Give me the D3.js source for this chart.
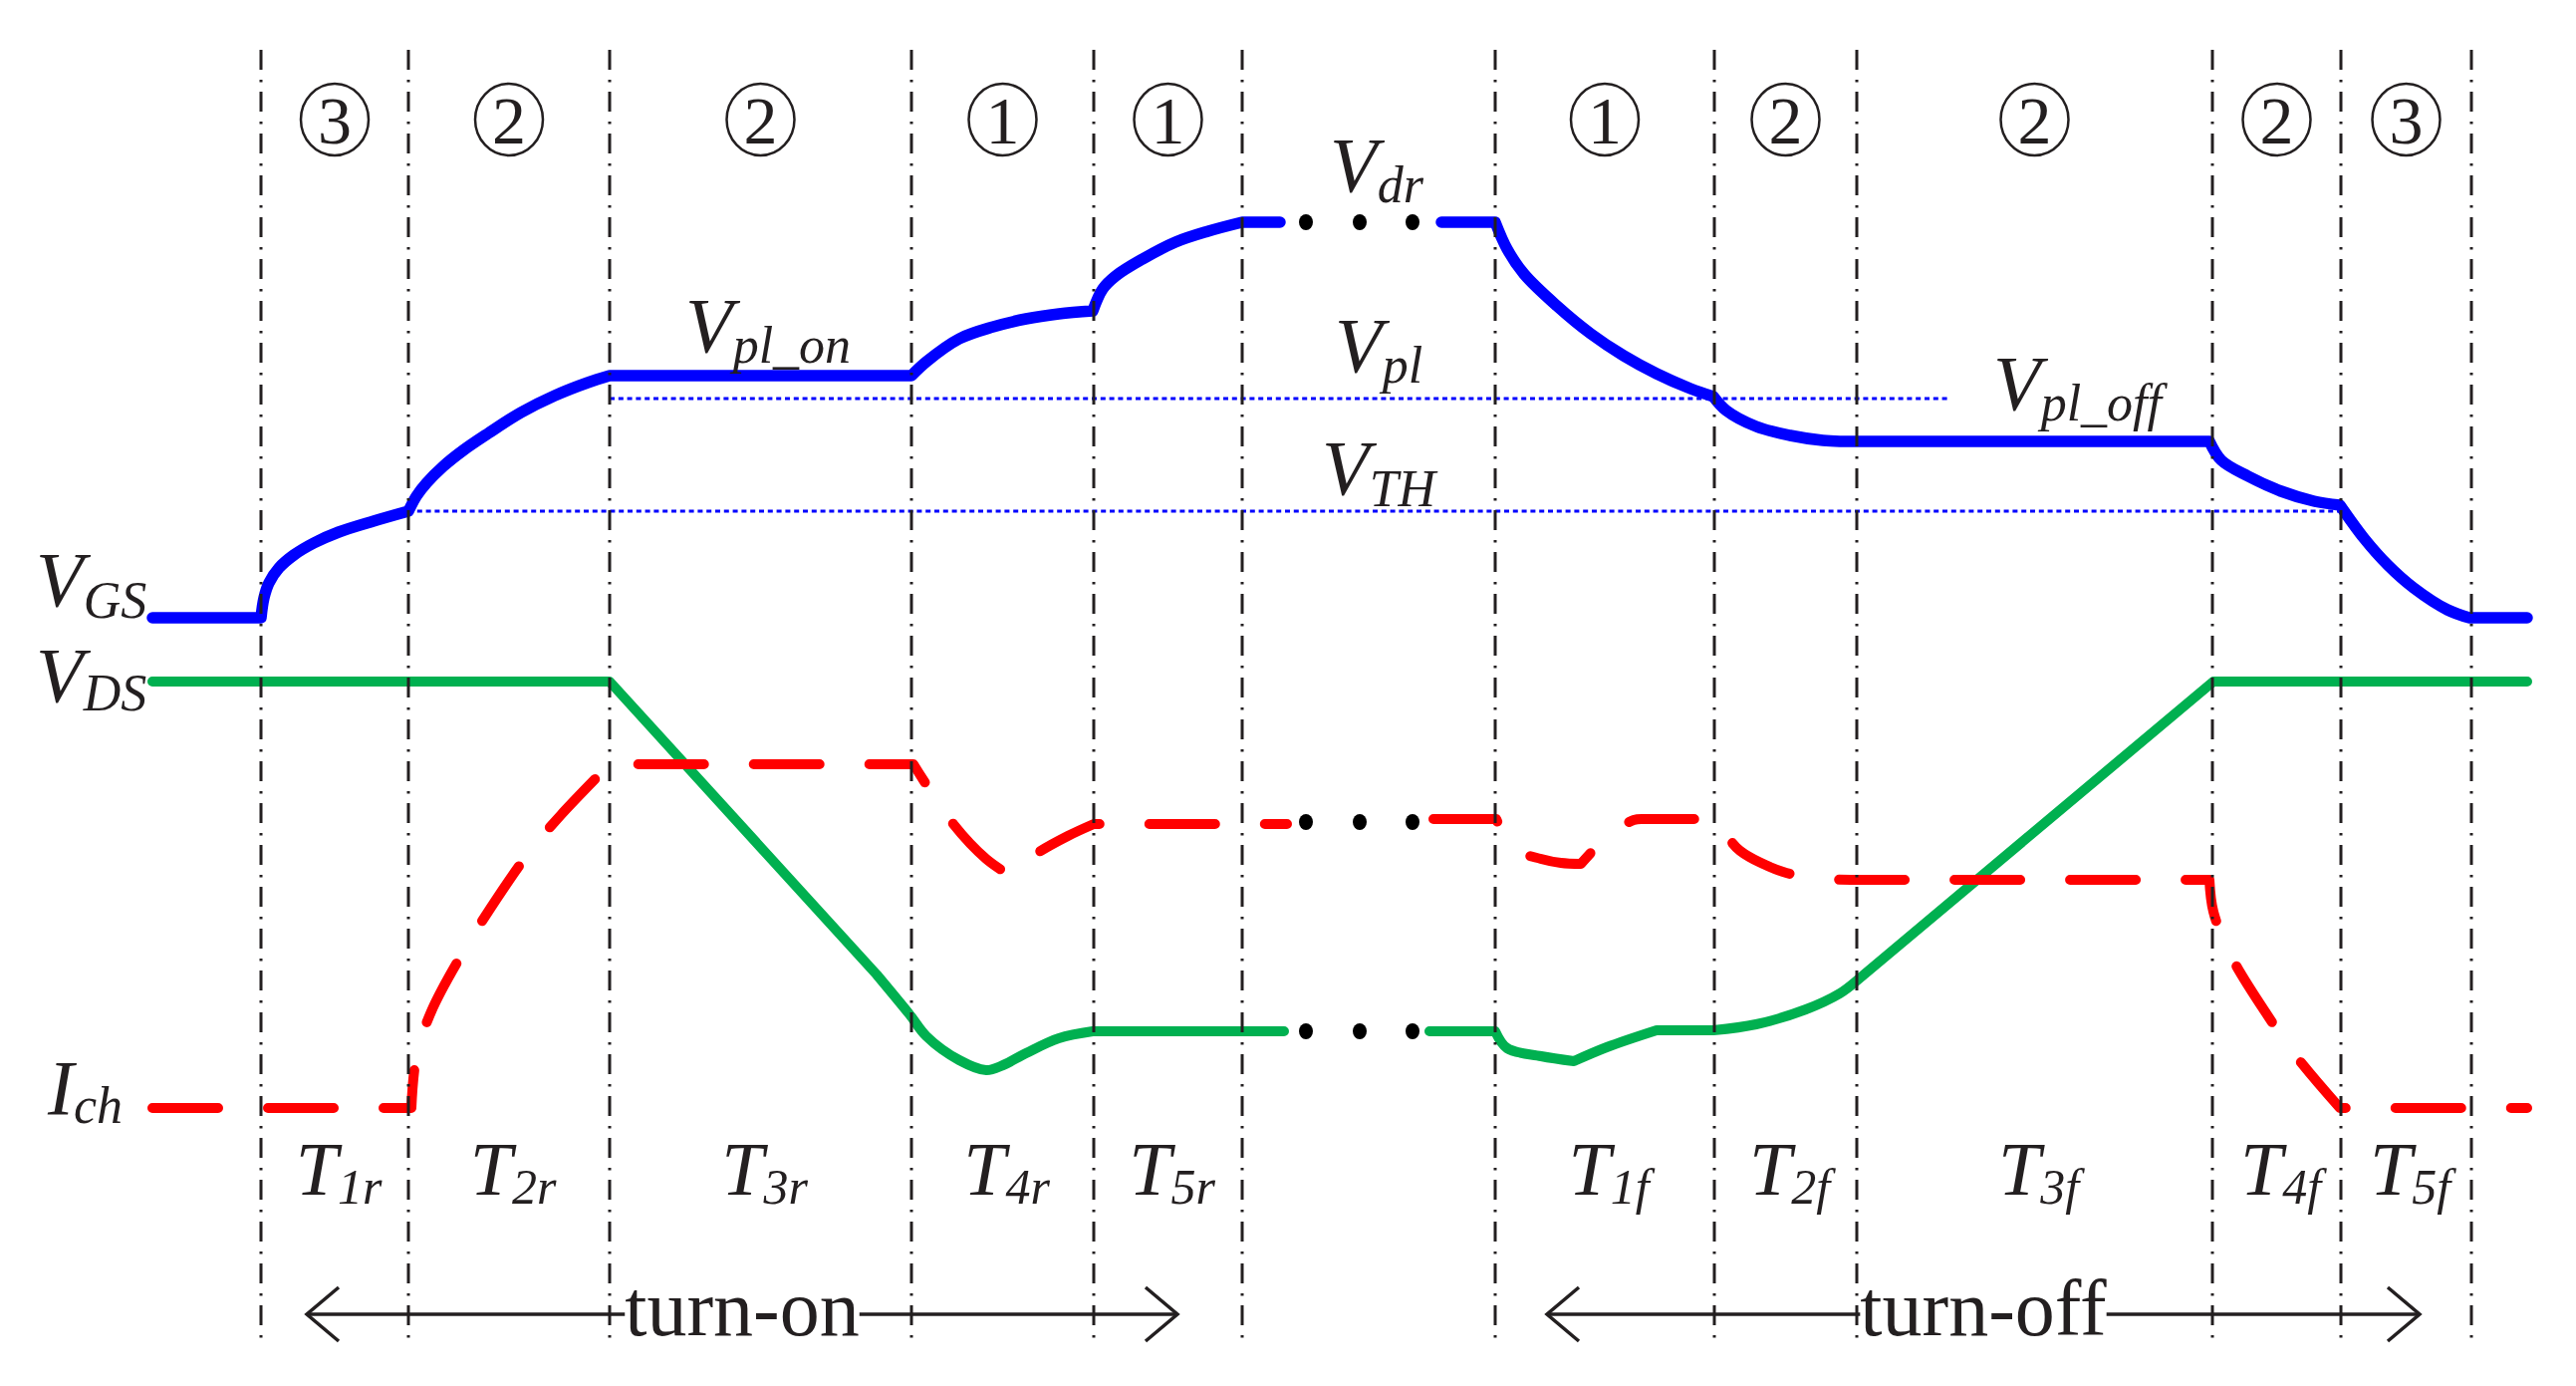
<!DOCTYPE html>
<html>
<head>
<meta charset="utf-8">
<script src="https://cdn.jsdelivr.net/npm/d3@7/dist/d3.min.js"></script>
<style>
  body { margin: 0; background: #fff; }
  text { font-family: "Liberation Serif", "Times New Roman", serif; fill: #231f20; }
</style>
</head>
<body>
<svg id="chart"></svg>
<script>
// time axis (arbitrary units) and level axis (arbitrary units)

// stage boundaries (dash-dot vertical lines)
const boundaries = [10.9, 25.7, 45.9, 76.2, 94.5, 109.4, 134.8, 156.8, 171.1, 206.8, 219.7, 232.8];
// the stage intervals, as pairs of boundary indices
const stageSpans = [[0, 1], [1, 2], [2, 3], [3, 4], [4, 5], [6, 7], [7, 8], [8, 9], [9, 10], [10, 11]];
const stageModes = [3, 2, 2, 1, 1, 1, 2, 2, 2, 3];
const stageSubs = ["1r", "2r", "3r", "4r", "5r", "1f", "2f", "3f", "4f", "5f"];

// V_GS, one list of segments per transition
const vgsOn = [
  [[0, 58], [10.9, 58]],
  [[10.9, 58], [11.2, 60], [11.7, 61.5], [12.7, 63], [14.2, 64.3], [16.2, 65.5], [18.7, 66.6], [22.2, 67.7], [25.7, 68.7]],
  [[25.7, 68.7], [26.5, 70.2], [27.5, 71.5], [29.2, 73.2], [31.2, 74.8], [33.7, 76.5], [37, 78.6], [40.4, 80.3], [43.7, 81.6], [45.9, 82.3]],
  [[45.9, 82.3], [76.2, 82.3]],
  [[76.2, 82.3], [77.7, 83.7], [81, 86], [84.4, 87.2], [87.7, 88], [91, 88.5], [94.4, 88.8]],
  [[94.4, 88.8], [95.4, 91], [96.7, 92.3], [99.4, 94], [102.7, 95.7], [106, 96.8], [109.4, 97.7]],
  [[109.4, 97.7], [113.2, 97.7]]
];
const vgsOff = [
  [[129.4, 97.7], [134.8, 97.7]],
  [[134.8, 97.7], [136, 95], [137.7, 92.5], [141, 89.3], [144.4, 86.5], [147.7, 84.3], [151, 82.5], [154.4, 81], [156.7, 80.2]],
  [[156.7, 80.2], [158, 78.8], [161, 77.2], [164.4, 76.3], [167.7, 75.8], [169.4, 75.7]],
  [[169.4, 75.7], [206.5, 75.7]],
  [[206.5, 75.7], [207.7, 73.8], [210.4, 72.2], [213.7, 70.7], [217, 69.7], [219.6, 69.3]],
  [[219.6, 69.3], [222, 66], [224.4, 63.3], [227, 61], [230.4, 58.8], [232.6, 58]],
  [[232.6, 58], [238.4, 58]]
];

// V_DS
const vdsOn = [
  [[0, 51.6], [45.9, 51.6]],
  [[45.9, 51.6], [72.7, 22.2]],
  [[72.7, 22.2], [76, 18.2], [77.7, 16], [81, 13.6], [83.7, 12.6], [85.4, 13.1], [87.7, 14.3], [91, 15.8], [94.4, 16.5]],
  [[94.4, 16.5], [113.6, 16.5]]
];
const vdsOff = [
  [[128.2, 16.5], [134.8, 16.5]],
  [[134.8, 16.5], [136, 14.8], [139.4, 14], [142.7, 13.5]],
  [[142.7, 13.5], [146, 14.9], [151, 16.6]],
  [[151, 16.6], [156.7, 16.6]],
  [[156.7, 16.6], [161, 17.2], [166, 18.7], [169.4, 20.3], [171, 21.5]],
  [[171, 21.5], [206.9, 51.6]],
  [[206.9, 51.6], [238.4, 51.6]]
];

// I_ch
const ichOn = [
  [[0, 8.8], [26, 8.8]],
  [[26, 8.8], [26.5, 14], [28, 18.5], [31.4, 24.8], [33.9, 28.8], [38, 34.7], [41, 38.2], [45.9, 43.3]],
  [[45.9, 43.3], [76.4, 43.3]],
  [[76.4, 43.3], [80.4, 37.3], [83.7, 33.8], [86, 32.2]],
  [[86, 32.2], [88.7, 34.3], [91.9, 36.1], [94.5, 37.3]],
  [[94.5, 37.3], [113.9, 37.3]]
];
const ichOff = [
  [[128.6, 37.8], [134.9, 37.8]],
  [[134.9, 37.8], [136.7, 34.8], [139.4, 33.8], [141.4, 33.4], [143.4, 33.3]],
  [[143.4, 33.3], [146, 36], [148.7, 37.7], [149.7, 37.8]],
  [[149.7, 37.8], [156.7, 37.8]],
  [[156.7, 37.8], [157.4, 37], [158, 36.2], [159.4, 34.6], [163.7, 32.5], [167.7, 31.8], [170.7, 31.7]],
  [[170.7, 31.7], [206.5, 31.7]],
  [[206.5, 31.7], [206.9, 28.5], [208.7, 24], [212.4, 18], [215.2, 14], [219.6, 8.8]],
  [[219.6, 8.8], [238.4, 8.8]]
];

// reference levels: [start, end, level]
const vplLine = [45.9, 180.2, 80.0];
const vthLine = [25.7, 219.6, 68.7];

// "..." gap between turn-on and turn-off
const gapDotsT = [115.8, 121.2, 126.5];
const gapDotLevels = [97.7, 37.5, 16.5];

// turn-on / turn-off arrows: [start, end]
const phaseNames = ["turn-on", "turn-off"];
const phaseSpans = [[15.5, 102.9], [140, 227.6]];

const W = 2586, H = 1391;
const x = d3.scaleLinear().domain([0, 240]).range([153, 2553]);
const y = d3.scaleLinear().domain([0, 100]).range([1200, 200]);

const ink = "#231f20";
const svg = d3.select("#chart").attr("width", W).attr("height", H);
svg.append("rect").attr("width", W).attr("height", H).attr("fill", "#fff");

const line = d3.line().x(d => x(d[0])).y(d => y(d[1])).curve(d3.curveCatmullRom.alpha(0.5));
function joined(segs) {
    return segs.map((s, i) => {
        const p = line(s);
        return i ? p.replace(/^M/, "L") : p;
    }).join("");
}

// reference dotted levels
[vplLine, vthLine].forEach(l => {
    svg.append("line")
        .attr("x1", x(l[0])).attr("x2", x(l[1]))
        .attr("y1", y(l[2])).attr("y2", y(l[2]))
        .attr("stroke", "#0000ff").attr("stroke-width", 3)
        .attr("stroke-dasharray", "5,3.8");
});

// waveforms
const signals = [
    { segs: [vdsOn, vdsOff], color: "#00b050", width: 10, dash: null },
    { segs: [ichOn, ichOff], color: "#ff0000", width: 10, dash: "66,50" },
    { segs: [vgsOn, vgsOff], color: "#0000ff", width: 11.5, dash: null }
];
signals.forEach(s => {
    s.segs.forEach(part => {
        svg.append("path")
            .attr("d", joined(part))
            .attr("fill", "none")
            .attr("stroke", s.color)
            .attr("stroke-width", s.width)
            .attr("stroke-linecap", "round")
            .attr("stroke-linejoin", "round")
            .attr("stroke-dasharray", s.dash);
    });
});

// gap dots
gapDotLevels.forEach(v => {
    svg.selectAll(null)
        .data(gapDotsT)
        .join("ellipse")
        .attr("cx", d => x(d))
        .attr("cy", y(v))
        .attr("rx", 7).attr("ry", 8)
        .attr("fill", "#000");
});

// stage boundaries
svg.selectAll(null)
    .data(boundaries)
    .join("line")
    .attr("x1", d => x(d)).attr("x2", d => x(d))
    .attr("y1", 50).attr("y2", 1347)
    .attr("stroke", ink).attr("stroke-width", 3)
    .attr("stroke-dasharray", "20,10,2.5,9.5");

// circled stage numbers
const mid = sp => (x(boundaries[sp[0]]) + x(boundaries[sp[1]])) / 2;
const modes = svg.selectAll(null)
    .data(stageSpans)
    .join("g")
    .attr("transform", d => `translate(${mid(d)},120)`);
modes.append("ellipse")
    .attr("rx", 34).attr("ry", 36)
    .attr("fill", "none").attr("stroke", ink).attr("stroke-width", 2.5);
modes.append("text")
    .attr("text-anchor", "middle")
    .attr("y", 24)
    .attr("font-size", 68)
    .text((d, i) => stageModes[i]);

// stage names T_xx
const tl = svg.selectAll(null)
    .data(stageSpans)
    .join("text")
    .attr("x", d => mid(d) + 4)
    .attr("y", 1199)
    .attr("text-anchor", "middle")
    .attr("font-style", "italic")
    .attr("font-size", 76);
tl.append("tspan").text("T");
tl.append("tspan").attr("font-size", 50).attr("dy", 9).text((d, i) => stageSubs[i]);

// signal and level labels
const labels = [
    { main: "V", sub: "GS", x: 36, y: 608, dy: 12 },
    { main: "V", sub: "DS", x: 36, y: 704, dy: 9 },
    { main: "I", sub: "ch", x: 48, y: 1118, dy: 9 },
    { main: "V", sub: "dr", x: 1335, y: 192, dy: 11 },
    { main: "V", sub: "pl_on", x: 688, y: 353, dy: 11 },
    { main: "V", sub: "pl", x: 1340, y: 373, dy: 11 },
    { main: "V", sub: "TH", x: 1327, y: 496, dy: 12 },
    { main: "V", sub: "pl_off", x: 2001, y: 411, dy: 11 }
];
labels.forEach(l => {
    const t = svg.append("text")
        .attr("x", l.x).attr("y", l.y)
        .attr("font-style", "italic")
        .attr("font-size", 78);
    t.append("tspan").text(l.main);
    t.append("tspan").attr("font-size", 52).attr("dy", l.dy).text(l.sub);
});

// turn-on / turn-off double arrows
phaseSpans.forEach((sp, i) => {
    const x0 = x(sp[0]), x1 = x(sp[1]), cy = 1319, cx = (x0 + x1) / 2;
    const t = svg.append("text")
        .attr("x", cx).attr("y", 1340)
        .attr("text-anchor", "middle")
        .attr("font-size", 80)
        .text(phaseNames[i]);
    const half = t.node().getComputedTextLength() / 2;
    const g = svg.append("g")
        .attr("fill", "none").attr("stroke", ink).attr("stroke-width", 3.5);
    g.append("line").attr("x1", x0).attr("x2", cx - half).attr("y1", cy).attr("y2", cy);
    g.append("line").attr("x1", cx + half).attr("x2", x1).attr("y1", cy).attr("y2", cy);
    g.append("path").attr("d", `M${x0 + 32},${cy - 27}L${x0},${cy}L${x0 + 32},${cy + 27}`);
    g.append("path").attr("d", `M${x1 - 32},${cy - 27}L${x1},${cy}L${x1 - 32},${cy + 27}`);
});
</script>
</body>
</html>
